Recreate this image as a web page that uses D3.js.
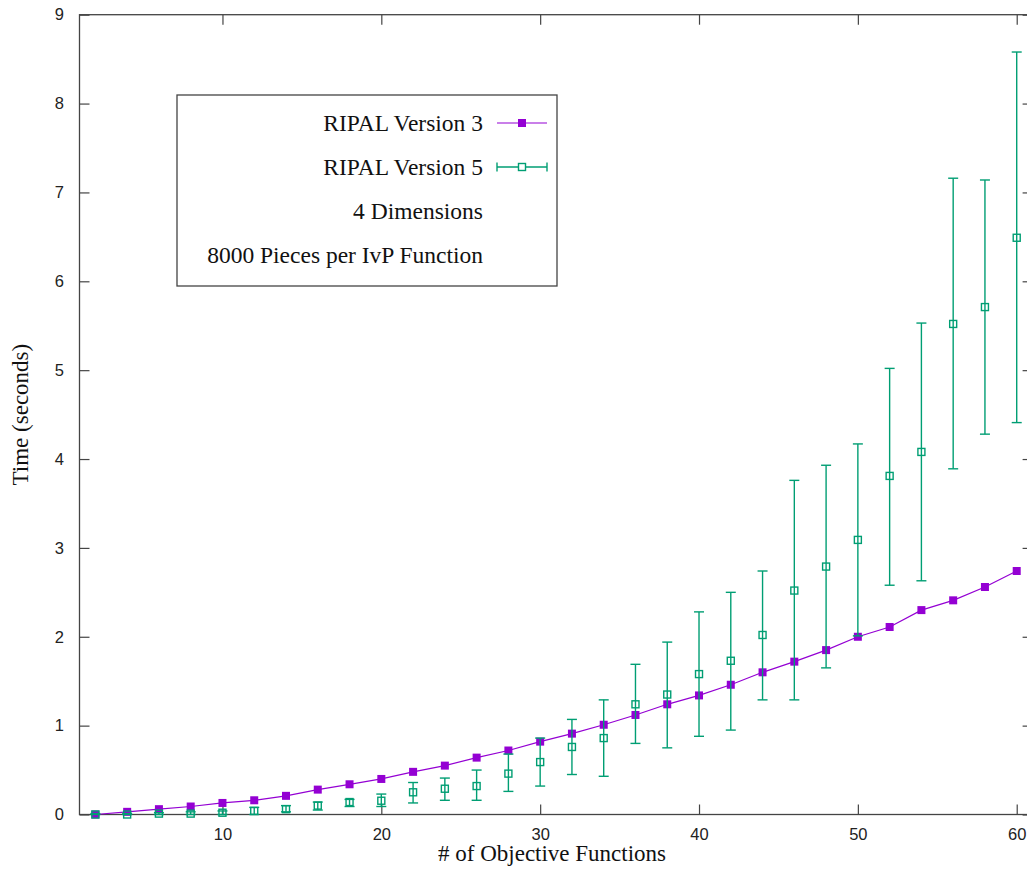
<!DOCTYPE html>
<html>
<head>
<meta charset="utf-8">
<script src="https://cdn.jsdelivr.net/npm/d3@7"></script>
<style>
  body { margin: 0; background: #fff; }
  svg { display: block; }
  .serif { font-family: "Liberation Serif", "Times New Roman", serif; }
</style>
</head>
<body>
<div id="chart"></div>
<script>
// objective function counts
const nFunctions = [2,4,6,8,10,12,14,16,18,20,22,24,26,28,30,32,34,36,38,40,42,44,46,48,50,52,54,56,58,60];
// RIPAL Version 3 times (seconds)
const v3Time = [0.00,0.03,0.06,0.09,0.13,0.16,0.21,0.28,0.34,0.40,0.48,0.55,0.64,0.72,0.82,0.91,1.01,1.12,1.24,1.34,1.46,1.60,1.72,1.85,2.00,2.11,2.30,2.41,2.56,2.74];
// RIPAL Version 5 mean, low and high (seconds)
const v5Time = [0.00,0.00,0.01,0.01,0.02,0.04,0.06,0.10,0.14,0.155,0.25,0.29,0.32,0.46,0.59,0.76,0.86,1.24,1.35,1.58,1.73,2.02,2.52,2.79,3.09,3.81,4.08,5.52,5.71,6.49];
const v5Low  = [0.00,0.00,0.00,0.00,0.00,0.00,0.03,0.05,0.09,0.09,0.13,0.16,0.16,0.26,0.32,0.45,0.43,0.80,0.75,0.88,0.95,1.29,1.29,1.65,2.01,2.58,2.63,3.89,4.28,4.41];
const v5High = [0.01,0.01,0.02,0.03,0.04,0.08,0.10,0.14,0.17,0.23,0.36,0.41,0.50,0.68,0.86,1.07,1.29,1.69,1.94,2.28,2.50,2.74,3.76,3.93,4.17,5.02,5.53,7.16,7.14,8.58];
const xTicks = [10,20,30,40,50,60];
const yTicks = [0,1,2,3,4,5,6,7,8,9];
const legendLabels = ["RIPAL Version 3", "RIPAL Version 5", "4 Dimensions", "8000 Pieces per IvP Function"];

const outerWidth = 1027, outerHeight = 879;
const margin = {top: 14.7, right: -5.6, bottom: 64.5, left: 79.5};
const width = outerWidth - margin.left - margin.right, height = outerHeight - margin.top - margin.bottom;

const purple = "#9400d3", green = "#009e73", axisColor = "#444";
const sans = "'Liberation Sans', Arial, sans-serif";

const svg = d3.select("#chart").append("svg")
    .attr("width", outerWidth)
    .attr("height", outerHeight);

const g = svg.append("g")
    .attr("transform", "translate(" + margin.left + "," + margin.top + ")");

const xScale = d3.scaleLinear().domain([1, 61]).range([0, width]);
const yScale = d3.scaleLinear().domain([0, 9]).range([height, 0]);

// axes with inward ticks, mirrored on top and right like gnuplot
const xAxis = d3.axisBottom(xScale).tickValues(xTicks).tickSizeInner(-10).tickSizeOuter(0).tickPadding(13.5);
const yAxis = d3.axisLeft(yScale).tickValues(yTicks).tickSizeInner(-10).tickSizeOuter(0).tickPadding(15.5);

const xaxis = g.append("g").attr("transform", `translate(0, ${height})`).call(xAxis);
const yaxis = g.append("g").call(yAxis);
const xtop = g.append("g").call(d3.axisTop(xScale).tickValues(xTicks).tickSizeInner(-10).tickSizeOuter(0).tickFormat(""));
const yright = g.append("g").attr("transform", `translate(${width}, 0)`)
    .call(d3.axisRight(yScale).tickValues(yTicks).tickSizeInner(-10).tickSizeOuter(0).tickFormat(""));

[xaxis, yaxis, xtop, yright].forEach(a => {
    a.select(".domain").remove();
    a.selectAll(".tick line").attr("stroke", axisColor).attr("stroke-width", 1.2);
    a.selectAll(".tick text").attr("font-family", sans).attr("font-size", 16.5).attr("fill", "#222");
});

g.append("rect")
    .attr("width", width)
    .attr("height", height)
    .attr("fill", "none")
    .attr("stroke", axisColor)
    .attr("stroke-width", 1.3);

// axis titles
g.append("text")
    .attr("class", "serif")
    .attr("x", width / 2 - 4)
    .attr("y", height + 47)
    .attr("text-anchor", "middle")
    .attr("font-size", 23)
    .attr("fill", "#111")
    .text("# of Objective Functions");

svg.append("text")
    .attr("class", "serif")
    .attr("transform", `translate(28, ${margin.top + height / 2}) rotate(-90)`)
    .attr("text-anchor", "middle")
    .attr("font-size", 23)
    .attr("fill", "#111")
    .text("Time (seconds)");

// Version 3 line and squares
const line = d3.line()
    .x((d, i) => xScale(nFunctions[i]))
    .y(d => yScale(d));

g.append("path")
    .datum(v3Time)
    .attr("d", line)
    .attr("fill", "none")
    .attr("stroke", purple)
    .attr("stroke-width", 1.2);

g.selectAll(".v3pt")
    .data(v3Time)
    .enter().append("rect")
    .attr("class", "v3pt")
    .attr("x", (d, i) => xScale(nFunctions[i]) - 4)
    .attr("y", d => yScale(d) - 4)
    .attr("width", 8)
    .attr("height", 8)
    .attr("fill", purple);

// Version 5 error bars
const cap = 5;
const bars = g.selectAll(".v5bar")
    .data(nFunctions)
    .enter().append("g")
    .attr("class", "v5bar")
    .attr("stroke", green)
    .attr("stroke-width", 1.4)
    .attr("fill", "none");

bars.append("line")
    .attr("x1", d => xScale(d)).attr("x2", d => xScale(d))
    .attr("y1", (d, i) => yScale(v5Low[i])).attr("y2", (d, i) => yScale(v5High[i]));
bars.append("line")
    .attr("x1", d => xScale(d) - cap).attr("x2", d => xScale(d) + cap)
    .attr("y1", (d, i) => yScale(v5Low[i])).attr("y2", (d, i) => yScale(v5Low[i]));
bars.append("line")
    .attr("x1", d => xScale(d) - cap).attr("x2", d => xScale(d) + cap)
    .attr("y1", (d, i) => yScale(v5High[i])).attr("y2", (d, i) => yScale(v5High[i]));
bars.append("rect")
    .attr("x", d => xScale(d) - 3.5)
    .attr("y", (d, i) => yScale(v5Time[i]) - 3.5)
    .attr("width", 7)
    .attr("height", 7)
    .attr("fill", "none");

// legend box
const legend = svg.append("g").attr("transform", "translate(177, 95)");
legend.append("rect")
    .attr("width", 380)
    .attr("height", 191)
    .attr("fill", "#fff")
    .attr("stroke", axisColor)
    .attr("stroke-width", 1.3);

legend.selectAll(".lbl")
    .data(legendLabels)
    .enter().append("text")
    .attr("class", "lbl serif")
    .attr("x", 306)
    .attr("y", (d, i) => 28 + i * 44)
    .attr("dy", "0.35em")
    .attr("text-anchor", "end")
    .attr("font-size", 23.5)
    .attr("fill", "#111")
    .text(d => d);

const s1 = legend.append("g").attr("transform", "translate(0, 28)");
s1.append("line").attr("x1", 320).attr("x2", 370).attr("stroke", purple).attr("stroke-width", 1.2);
s1.append("rect").attr("x", 341).attr("y", -4).attr("width", 8).attr("height", 8).attr("fill", purple);

const s2 = legend.append("g").attr("transform", "translate(0, 72)")
    .attr("stroke", green).attr("stroke-width", 1.4).attr("fill", "none");
s2.append("line").attr("x1", 320).attr("x2", 370);
s2.append("line").attr("x1", 320).attr("x2", 320).attr("y1", -4.5).attr("y2", 4.5);
s2.append("line").attr("x1", 370).attr("x2", 370).attr("y1", -4.5).attr("y2", 4.5);
s2.append("rect").attr("x", 341.5).attr("y", -3.5).attr("width", 7).attr("height", 7).attr("fill", "#fff");
</script>
</body>
</html>
